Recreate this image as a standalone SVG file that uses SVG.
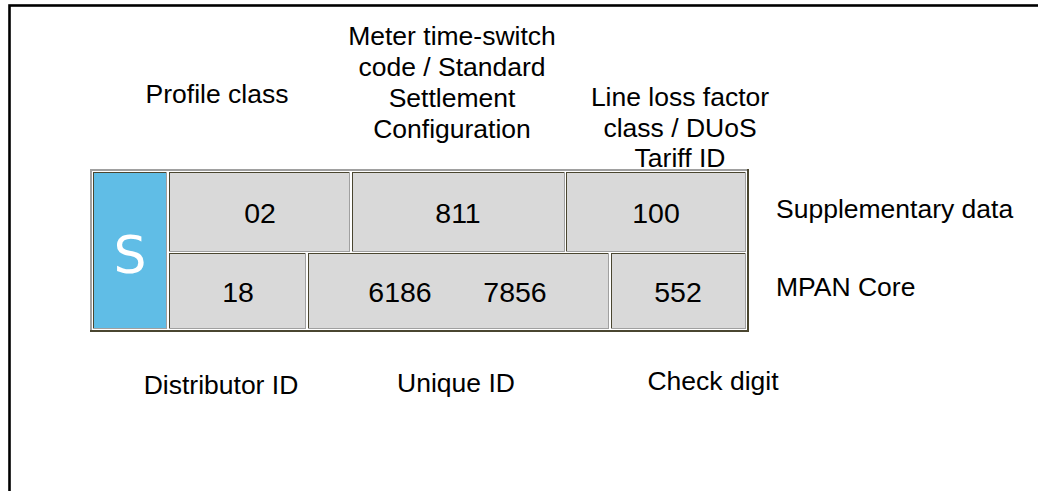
<svg xmlns="http://www.w3.org/2000/svg" width="1038" height="491" viewBox="0 0 1038 491">
<style>
.lbl{font-family:"Liberation Sans",Arial,sans-serif;font-size:26.5px;fill:#000}
.num{font-family:"Liberation Sans",Arial,sans-serif;font-size:28.5px;fill:#000;text-anchor:middle}
.c{text-anchor:middle}
.cell{fill:#d9d9d9}
.dk{fill:#4a4630}
.lt{fill:#a0a0a0}
</style>
<rect x="0" y="0" width="1038" height="491" fill="#fff"/>
<rect id="frame" x="9.5" y="5.5" width="1100" height="600" fill="none" stroke="#000" stroke-width="2.6"/>

<g id="table">
  <rect x="90" y="169" width="659" height="163" fill="#fff"/>
  <rect class="lt" x="90" y="169" width="659" height="2"/>
  <rect class="lt" x="90" y="169" width="2" height="163"/>
  <rect class="dk" x="90" y="330" width="659" height="2"/>
  <rect class="dk" x="747" y="169" width="2" height="163"/>
</g>

<g id="node-s">
  <rect class="lt" x="93" y="172" width="74" height="157"/>
  <rect class="dk" x="93" y="172" width="73" height="156"/>
  <rect fill="#60bde6" x="94" y="173" width="72" height="155"/>
  <text x="130" y="273" font-family="'DejaVu Sans',Verdana,sans-serif" font-size="52" fill="#fff" text-anchor="middle">S</text>
</g>

<g id="node-02">
  <rect class="lt" x="169" y="172" width="181" height="80"/>
  <rect class="dk" x="169" y="172" width="180" height="79"/>
  <rect class="cell" x="170" y="173" width="179" height="78"/>
  <text class="num" x="260" y="223">02</text>
</g>
<g id="node-811">
  <rect class="lt" x="352" y="172" width="213" height="80"/>
  <rect class="dk" x="352" y="172" width="212" height="79"/>
  <rect class="cell" x="353" y="173" width="211" height="78"/>
  <text class="num" x="458" y="223">811</text>
</g>
<g id="node-100">
  <rect class="lt" x="566" y="172" width="180" height="80"/>
  <rect class="dk" x="566" y="172" width="179" height="79"/>
  <rect class="cell" x="567" y="173" width="178" height="78"/>
  <text class="num" x="656" y="223">100</text>
</g>

<g id="node-18">
  <rect class="lt" x="169" y="253" width="137" height="76"/>
  <rect class="dk" x="169" y="253" width="136" height="75"/>
  <rect class="cell" x="170" y="254" width="135" height="74"/>
  <text class="num" x="238" y="302">18</text>
</g>
<g id="node-unique">
  <rect class="lt" x="308" y="253" width="301" height="76"/>
  <rect class="dk" x="308" y="253" width="300" height="75"/>
  <rect class="cell" x="309" y="254" width="299" height="74"/>
  <text class="num" y="302"><tspan x="400">6186</tspan><tspan x="515">7856</tspan></text>
</g>
<g id="node-552">
  <rect class="lt" x="611" y="253" width="135" height="76"/>
  <rect class="dk" x="611" y="253" width="134" height="75"/>
  <rect class="cell" x="612" y="254" width="133" height="74"/>
  <text class="num" x="678" y="302">552</text>
</g>

<g id="labels">
  <text class="lbl c" x="217" y="103">Profile class</text>
  <text class="lbl c" x="452"><tspan x="452" y="45">Meter time-switch</tspan><tspan x="452" y="76">code / Standard</tspan><tspan x="452" y="107">Settlement</tspan><tspan x="452" y="138">Configuration</tspan></text>
  <text class="lbl c" x="680"><tspan x="680" y="106">Line loss factor</tspan><tspan x="680" y="137">class / DUoS</tspan><tspan x="680" y="167">Tariff ID</tspan></text>
  <text class="lbl" x="776" y="218">Supplementary data</text>
  <text class="lbl" x="776" y="296">MPAN Core</text>
  <text class="lbl c" x="221" y="394">Distributor ID</text>
  <text class="lbl c" x="456" y="392">Unique ID</text>
  <text class="lbl c" x="713" y="390">Check digit</text>
</g>
<g id="connectors"></g>
</svg>
